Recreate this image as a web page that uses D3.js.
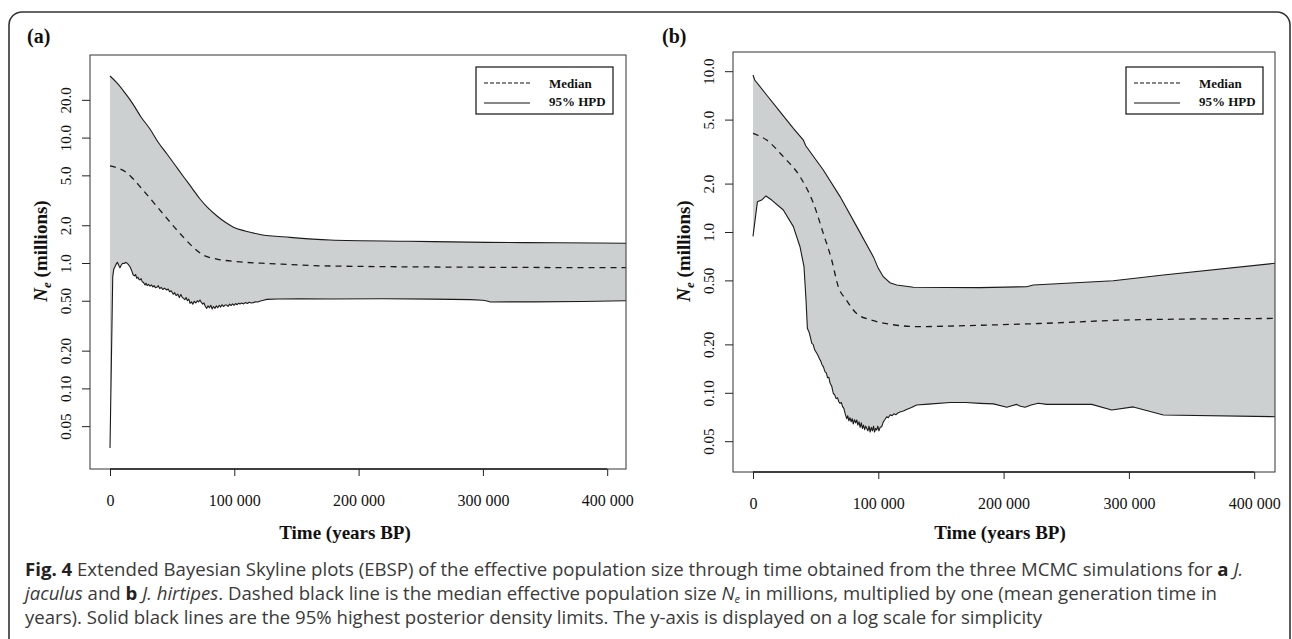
<!DOCTYPE html>
<html>
<head>
<meta charset="utf-8">
<script src="https://cdn.jsdelivr.net/npm/d3@7/dist/d3.min.js"></script>
<style>
  html, body { margin: 0; padding: 0; background: #ffffff; }
  svg { display: block; }
</style>
</head>
<body>
<script>
// ---------------- DATA ----------------
// x: time (years BP), y: Ne (millions)
const xTickValues = [0, 100000, 200000, 300000, 400000];
const xTickLabels = ["0", "100 000", "200 000", "300 000", "400 000"];

const yTickValuesA = [0.05, 0.1, 0.2, 0.5, 1, 2, 5, 10, 20];
const yTickLabelsA = ["0.05", "0.10", "0.20", "0.50", "1.0", "2.0", "5.0", "10.0", "20.0"];
const yTickValuesB = [0.05, 0.1, 0.2, 0.5, 1, 2, 5, 10];
const yTickLabelsB = ["0.05", "0.10", "0.20", "0.50", "1.0", "2.0", "5.0", "10.0"];

const legendLabels = ["Median", "95% HPD"];
const panelLabels = ["(a)", "(b)"];

// Panel (a) J. jaculus
const upperA = [[0,31.0],[5630,27.3],[12070,22.7],[18500,18.5],[24940,14.6],[32180,11.7],[38620,9.22],
  [45860,7.40],[52290,6.05],[58730,4.94],[65970,3.96],[72410,3.24],[78840,2.75],[86080,2.37],
  [92520,2.12],[98950,1.94],[108600,1.80],[120700,1.69],[144800,1.60],[177000,1.525],
  [240000,1.49],[303300,1.46],[360000,1.45],[415000,1.436]];
const medianA = [[0,5.94],[13700,5.22],[26500,3.82],[40200,2.64],[53900,1.83],[66800,1.34],[74800,1.16],
  [86100,1.076],[104600,1.02],[128700,0.99],[177000,0.946],[300000,0.925],[415000,0.917]];
const lowerA = [[0,0.0335],[2200,0.778],[3000,0.89],[4000,0.934],[5000,0.98],[5900,1.013],[7000,0.96],
  [8000,0.917],[9000,0.96],[10200,0.995],[11500,0.99],[12900,1.013],[14500,0.98],[16100,0.934],
  [17400,0.87],[18700,0.802],[19800,0.79],[20600,0.81],[21500,0.755],[22500,0.77],[23300,0.74],
  [24100,0.732],[25000,0.75],[25900,0.71],[27000,0.70],[28200,0.668],[29000,0.69],[30000,0.66],
  [31000,0.675],[32200,0.655],[33300,0.67],[34500,0.645],[35500,0.66],[36500,0.635],[37600,0.64],
  [38800,0.66],[40000,0.625],[41200,0.64],[42500,0.615],[43800,0.63],[45600,0.609],[46800,0.62],
  [48000,0.59],[49200,0.6],[50900,0.563],[52000,0.58],[53200,0.55],[54500,0.565],[55800,0.53],
  [57000,0.56],[58000,0.535],[59000,0.523],[60200,0.51],[61200,0.53],[62300,0.5],[63400,0.515],
  [64400,0.477],[65500,0.49],[66600,0.47],[67800,0.495],[69000,0.48],[70200,0.50],[71300,0.49],
  [72400,0.507],[73500,0.485],[74600,0.47],[75600,0.48],[76700,0.45],[77800,0.435],[78900,0.455],
  [80000,0.44],[81100,0.46],[82200,0.43],[83300,0.45],[84500,0.435],[85600,0.455],[86700,0.44],
  [87900,0.46],[89000,0.445],[90100,0.465],[91200,0.45],[92500,0.462],[93900,0.462],[95000,0.45],
  [96200,0.47],[97400,0.458],[98600,0.472],[99800,0.46],[101000,0.475],[102300,0.465],[103500,0.478],
  [104600,0.471],[106000,0.48],[107500,0.472],[109000,0.484],[110500,0.476],[112000,0.487],
  [113600,0.48],[115300,0.483],[117000,0.49],[119000,0.488],[121000,0.498],[123500,0.505],
  [126100,0.513],[135000,0.516],[152900,0.519],[177000,0.516],[220000,0.518],[260000,0.515],
  [290000,0.51],[300000,0.505],[303300,0.498],[306000,0.489],[340000,0.49],[380000,0.493],[415000,0.50]];

// Panel (b) J. hirtipes
const upperB = [[0,9.47],[1400,8.81],[10900,7.11],[21500,5.6],[32200,4.41],[40200,3.73],[42100,3.44],
  [56100,2.43],[69500,1.66],[82800,1.08],[96100,0.70],[100000,0.594],[104000,0.527],[109300,0.484],
  [114700,0.468],[128000,0.453],[181200,0.451],[218400,0.457],[223700,0.468],[287500,0.498],
  [327500,0.54],[416600,0.639]];
const medianB = [[0,4.11],[10900,3.73],[24200,2.94],[37500,2.21],[48200,1.51],[56100,0.98],[62800,0.67],
  [68100,0.457],[74500,0.378],[82500,0.312],[96000,0.281],[112000,0.265],[130600,0.258],
  [181200,0.263],[230000,0.27],[300900,0.284],[416600,0.29]];
const lowerB = [[0,0.94],[3500,1.54],[6900,1.58],[10300,1.675],[14900,1.58],[24200,1.37],[32200,1.08],
  [37500,0.81],[40700,0.61],[42300,0.378],[43400,0.252],[45000,0.235],[46200,0.215],[46900,0.203],
  [48000,0.2],[49200,0.185],[50900,0.176],[52000,0.17],[53000,0.163],[54000,0.158],[55000,0.15],
  [56200,0.145],[57500,0.135],[58500,0.133],[59500,0.124],[60500,0.125],[61500,0.115],[62800,0.11],
  [64100,0.099],[65200,0.097],[66300,0.092],[67500,0.093],[68500,0.088],[69500,0.086],[70500,0.087],
  [71500,0.082],[72500,0.080],[73600,0.074],[74800,0.069],[75600,0.072],[76500,0.067],[77400,0.070],
  [78300,0.066],[79200,0.069],[80000,0.064],[81000,0.068],[82000,0.065],[82800,0.0677],[83700,0.063],
  [84600,0.066],[85500,0.061],[86400,0.065],[87300,0.060],[88200,0.063],[89100,0.059],[90000,0.062],
  [90800,0.060],[91700,0.058],[92600,0.062],[93500,0.057],[94400,0.061],[95300,0.058],[96200,0.062],
  [97000,0.057],[97900,0.06],[98700,0.0587],[99600,0.062],[100500,0.058],[101500,0.061],
  [102700,0.0615],[104000,0.066],[105200,0.068],[106700,0.071],[108000,0.07],[109500,0.073],
  [111000,0.072],[112500,0.074],[114000,0.073],[115700,0.075],[117300,0.076],[120000,0.077],
  [123000,0.079],[126500,0.081],[130600,0.084],[140000,0.085],[157200,0.087],[170000,0.087],
  [181200,0.086],[191900,0.0853],[202600,0.0813],[206500,0.083],[210400,0.0847],[213500,0.0825],
  [217100,0.0813],[222000,0.084],[227700,0.086],[234400,0.0847],[270300,0.0847],[286300,0.0782],
  [303500,0.0817],[327500,0.0728],[416600,0.071]];

// ---------------- LAYOUT ----------------
const W = 1292, H = 639;
const FILL = "#cdd0d0";
const serif = "'Liberation Serif', 'Times New Roman', serif";
const sans = "'Open Sans', 'Noto Sans', sans-serif";

const svg = d3.select("body").append("svg")
  .attr("width", W).attr("height", H)
  .attr("viewBox", `0 0 ${W} ${H}`);

// outer rounded frame
svg.append("rect")
  .attr("x", 9).attr("y", 12).attr("width", 1281).attr("height", 720)
  .attr("rx", 13).attr("ry", 13)
  .attr("fill", "none").attr("stroke", "#333").attr("stroke-width", 1.6);

const panels = [
  { id: "a", label: panelLabels[0], labelX: 27, labelY: 43,
    box: { l: 90, r: 626, t: 55, b: 469 },
    xRange: [110, 607.2],
    yDomain: [0.05, 20], yRange: [426.15, 99.85],
    yTicks: yTickValuesA, yLabels: yTickLabelsA,
    upper: upperA, median: medianA, lower: lowerA, upperCurve: d3.curveMonotoneX,
    legend: { x: 476, y: 67, w: 137, h: 47 },
    titleX: 345, yTitleX: 47 },
  { id: "b", label: panelLabels[1], labelX: 662, labelY: 43,
    box: { l: 733, r: 1275, t: 52, b: 472 },
    xRange: [753, 1254.2],
    yDomain: [0.05, 10], yRange: [441.2, 71.2],
    yTicks: yTickValuesB, yLabels: yTickLabelsB,
    upper: upperB, median: medianB, lower: lowerB, upperCurve: d3.curveLinear,
    legend: { x: 1126, y: 67, w: 137, h: 47 },
    titleX: 1000, yTitleX: 690 }
];

panels.forEach(p => {
  const g = svg.append("g");
  const x = d3.scaleLinear().domain([0, 400000]).range(p.xRange);
  const y = d3.scaleLog().domain(p.yDomain).range(p.yRange);
  const b = p.box;

  // clip
  const clipId = "clip-" + p.id;
  svg.append("defs").append("clipPath").attr("id", clipId)
    .append("rect").attr("x", b.l).attr("y", b.t).attr("width", b.r - b.l).attr("height", b.b - b.t);

  const data = g.append("g").attr("clip-path", `url(#${clipId})`);

  const lineUpper = d3.line().x(d => x(d[0])).y(d => y(d[1])).curve(p.upperCurve);
  const lineLinear = d3.line().x(d => x(d[0])).y(d => y(d[1]));
  const lineMedian = d3.line().x(d => x(d[0])).y(d => y(d[1])).curve(d3.curveMonotoneX);

  const upPath = lineUpper(p.upper);
  const lowRev = lineLinear(p.lower.slice().reverse());
  data.append("path")
    .attr("d", upPath + "L" + lowRev.slice(1) + "Z")
    .attr("fill", FILL).attr("stroke", "none");

  data.append("path").attr("d", upPath)
    .attr("fill", "none").attr("stroke", "#1a1a1a").attr("stroke-width", 1.1);
  data.append("path").attr("d", lineLinear(p.lower))
    .attr("fill", "none").attr("stroke", "#1a1a1a").attr("stroke-width", 1.1)
    .attr("stroke-linejoin", "round");
  data.append("path").attr("d", lineMedian(p.median))
    .attr("fill", "none").attr("stroke", "#1a1a1a").attr("stroke-width", 1.3)
    .attr("stroke-dasharray", "6,5");

  // box
  g.append("rect").attr("x", b.l).attr("y", b.t).attr("width", b.r - b.l).attr("height", b.b - b.t)
    .attr("fill", "none").attr("stroke", "#333").attr("stroke-width", 1);

  // x axis
  const xAxis = d3.axisBottom(x).tickValues(xTickValues)
    .tickFormat((d, i) => xTickLabels[i]).tickSize(7).tickPadding(19);
  const xg = g.append("g").attr("transform", `translate(0,${b.b})`).call(xAxis);
  xg.select(".domain").attr("d", `M${x(0)},0H${x(400000)}`).attr("stroke", "#222").attr("stroke-width", 1.6);
  xg.selectAll(".tick line").attr("stroke", "#222").attr("stroke-width", 1);
  xg.selectAll(".tick text").attr("font-family", serif).attr("font-size", 16).attr("fill", "#111");

  // y axis
  const yAxis = d3.axisLeft(y).tickValues(p.yTicks)
    .tickFormat((d, i) => p.yLabels[i]).tickSize(8).tickPadding(0);
  const yg = g.append("g").attr("transform", `translate(${b.l},0)`).call(yAxis);
  yg.select(".domain").remove();
  yg.selectAll(".tick line").attr("stroke", "#222").attr("stroke-width", 1);
  yg.selectAll(".tick text")
    .attr("font-family", serif).attr("font-size", 15).attr("fill", "#111")
    .attr("x", null).attr("dy", null)
    .attr("text-anchor", "middle")
    .attr("transform", "translate(-19,0) rotate(-90)");

  // x title
  g.append("text").attr("x", p.titleX).attr("y", 539)
    .attr("text-anchor", "middle").attr("font-family", serif)
    .attr("font-size", 19).attr("font-weight", "bold").attr("fill", "#111")
    .text("Time (years BP)");

  // y title
  const yt = g.append("text")
    .attr("transform", `translate(${p.yTitleX},${(b.t + b.b) / 2 - 11}) rotate(-90)`)
    .attr("text-anchor", "middle").attr("font-family", serif)
    .attr("font-size", 19).attr("font-weight", "bold").attr("fill", "#111");
  yt.append("tspan").attr("font-style", "italic").text("N");
  yt.append("tspan").attr("font-style", "italic").attr("font-size", 13).attr("dy", 4).text("e");
  yt.append("tspan").attr("dy", -4).text(" (millions)");

  // panel label
  g.append("text").attr("x", p.labelX).attr("y", p.labelY)
    .attr("font-family", serif).attr("font-size", 20).attr("font-weight", "bold").attr("fill", "#111")
    .text(p.label);

  // legend
  const L = p.legend;
  const lg = g.append("g");
  lg.append("rect").attr("x", L.x).attr("y", L.y).attr("width", L.w).attr("height", L.h)
    .attr("fill", "#fff").attr("stroke", "#111").attr("stroke-width", 1.2);
  lg.append("line").attr("x1", L.x + 8).attr("x2", L.x + 54).attr("y1", L.y + 16).attr("y2", L.y + 16)
    .attr("stroke", "#111").attr("stroke-width", 1.2).attr("stroke-dasharray", "4,2");
  lg.append("line").attr("x1", L.x + 8).attr("x2", L.x + 54).attr("y1", L.y + 36).attr("y2", L.y + 36)
    .attr("stroke", "#111").attr("stroke-width", 1.2);
  legendLabels.forEach((t, i) => {
    lg.append("text").attr("x", L.x + 73).attr("y", L.y + 20.5 + i * 18.5)
      .attr("font-family", serif).attr("font-size", 13).attr("font-weight", "bold").attr("fill", "#111")
      .text(t);
  });
});

// ---------------- CAPTION ----------------
const captionLines = [
  [["Fig. 4", "b"], [" Extended Bayesian Skyline plots (EBSP) of the effective population size through time obtained from the three MCMC simulations for ", ""], ["a", "b"], [" ", ""], ["J.", "i"]],
  [["jaculus", "i"], [" and ", ""], ["b", "b"], [" ", ""], ["J. hirtipes", "i"], [". Dashed black line is the median effective population size ", ""], ["N", "i"], ["e", "sub"], [" in millions, multiplied by one (mean generation time in", ""]],
  [["years). Solid black lines are the 95% highest posterior density limits. The y-axis is displayed on a log scale for simplicity", ""]]
];
const capBaselines = [576, 600, 624];
captionLines.forEach((parts, li) => {
  const t = svg.append("text").attr("x", 25).attr("y", capBaselines[li])
    .attr("font-family", sans).attr("font-size", 18.6).attr("fill", "#3a3a3a");
  let prevSub = false;
  parts.forEach(([s, st]) => {
    const ts = t.append("tspan").text(s);
    if (prevSub) { ts.attr("dy", -2.5); prevSub = false; }
    if (st === "b") ts.attr("font-weight", "bold").attr("fill", "#222");
    if (st === "i") ts.attr("font-style", "italic");
    if (st === "sub") { ts.attr("font-style", "italic").attr("font-size", 11).attr("dy", 2.5); prevSub = true; }
  });
});
</script>
</body>
</html>
